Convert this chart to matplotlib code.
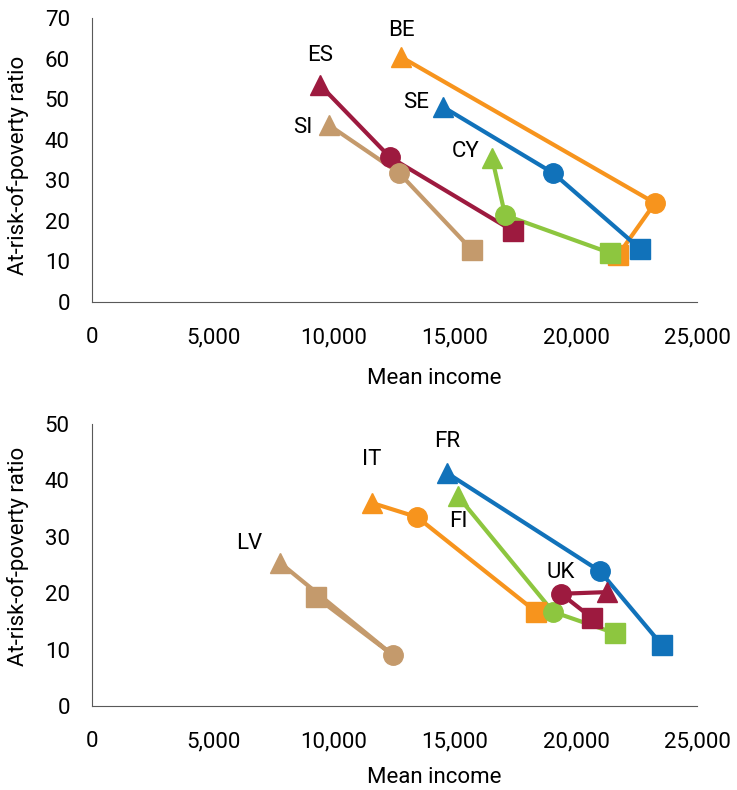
import matplotlib.pyplot as plt
from matplotlib.ticker import FuncFormatter

# top panel: (triangle, circle, square) points per country
top_names = ["BE", "ES", "SI", "SE", "CY"]
top_income = [
    [12770, 23260, 21740],
    [9420, 12310, 17400],
    [9790, 12690, 15700],
    [14500, 19050, 22650],
    [16530, 17070, 21400],
]
top_ratio = [
    [60.4, 24.4, 11.6],
    [53.5, 35.7, 17.5],
    [43.6, 31.8, 12.8],
    [48.1, 31.8, 13.1],
    [35.5, 21.4, 12.1],
]
top_colors = ["#F7941D", "#9D1A3F", "#C49A6C", "#1172BA", "#8DC63F"]
# label offsets in points relative to the triangle
top_offsets = [(0, 19), (0, 21), (-19, -2), (-19, 3), (-19, 5)]

bot_names = ["FR", "IT", "FI", "UK", "LV"]
bot_income = [
    [14670, 20990, 23550],
    [11570, 13430, 18350],
    [15120, 19050, 21610],
    [21280, 19380, 20660],
    [7770, 12440, 9260],
]
bot_ratio = [
    [41.3, 23.9, 10.8],
    [36.0, 33.5, 16.7],
    [37.2, 16.7, 12.9],
    [20.2, 19.9, 15.6],
    [25.4, 9.0, 19.3],
]
bot_colors = ["#1172BA", "#F7941D", "#8DC63F", "#9D1A3F", "#C49A6C"]
bot_offsets = [(0, 23), (0, 31), (0, -18), (-33, 14), (-22, 14)]

plt.rcParams['font.family'] = ['Liberation Sans Narrow', 'Roboto', 'DejaVu Sans']
fig = plt.figure(figsize=(7.37, 7.90), dpi=100)
ax1 = fig.add_axes([0.1248, 0.6177, 0.821, 0.3595])
ax2 = fig.add_axes([0.1248, 0.1063, 0.821, 0.357])

markers = ["^", "o", "s"]
sizes = [14, 14, 15]
fs = 16


def draw(ax, names, income, ratio, colors, offsets, ymax, ylab_y, xlab_y):
    for name, xs, ys, c, off in zip(names, income, ratio, colors, offsets):
        ax.plot(xs, ys, color=c, lw=3, zorder=2)
        for x, y, m, s in zip(xs, ys, markers, sizes):
            ax.plot(x, y, marker=m, ms=s, color=c, mec=c, zorder=3, linestyle="none")
        ax.annotate(name, (xs[0], ys[0]), xytext=off, textcoords="offset points",
                    ha="center", va="center", fontsize=fs)
    ax.set_xlim(0, 25000)
    ax.set_ylim(0, ymax)
    ax.set_yticks(range(0, ymax + 1, 10))
    ax.set_xticks(range(0, 25001, 5000))
    ax.xaxis.set_major_formatter(FuncFormatter(lambda v, p: f"{int(v):,}"))
    ax.tick_params(length=0, labelsize=fs)
    ax.tick_params(axis="y", pad=16)
    ax.tick_params(axis="x", pad=18)
    for s in ["top", "right"]:
        ax.spines[s].set_visible(False)
    for s in ["left", "bottom"]:
        ax.spines[s].set_color("#595959")
        ax.spines[s].set_linewidth(0.8)
    ax.set_xlabel("Mean income", fontsize=fs)
    ax.set_ylabel("At-risk-of-poverty ratio", fontsize=fs)
    ax.xaxis.set_label_coords(0.565, xlab_y)
    ax.yaxis.set_label_coords(-0.122, ylab_y)
    ax.xaxis.label.set_va("center")
    ax.yaxis.label.set_va("center")


draw(ax1, top_names, top_income, top_ratio, top_colors, top_offsets, 70, 0.48, -0.268)
draw(ax2, bot_names, bot_income, bot_ratio, bot_colors, bot_offsets, 50, 0.53, -0.252)

fig.savefig("out.png", dpi=100)
